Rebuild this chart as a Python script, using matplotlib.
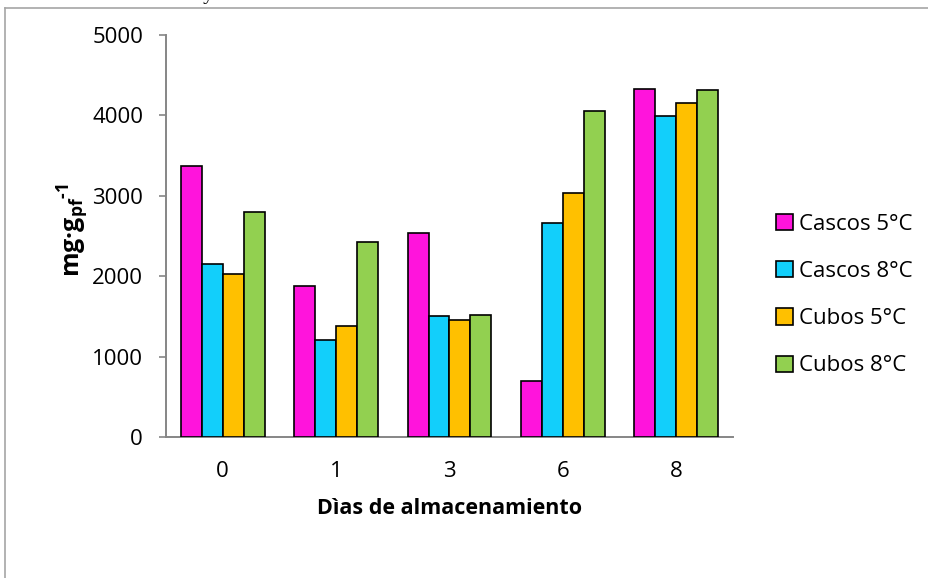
import matplotlib
matplotlib.use('Agg')
import matplotlib.pyplot as plt
import numpy as np
from matplotlib.lines import Line2D

# days of storage and measured content per treatment
dias = ['0', '1', '3', '6', '8']
cascos_5 = [3370, 1880, 2540, 700, 4330]
cascos_8 = [2150, 1205, 1510, 2665, 3995]
cubos_5 = [2025, 1385, 1450, 3030, 4150]
cubos_8 = [2800, 2430, 1520, 4060, 4320]
series_names = ['Cascos 5°C', 'Cascos 8°C', 'Cubos 5°C', 'Cubos 8°C']
colores = ['#FF14DC', '#12CFFB', '#FFC000', '#92D050']
y_ticks = [0, 1000, 2000, 3000, 4000, 5000]

plt.rcParams['font.family'] = ['Open Sans', 'DejaVu Sans']
plt.rcParams['mathtext.fontset'] = 'custom'
plt.rcParams['mathtext.rm'] = 'Open Sans:bold'
plt.rcParams['mathtext.it'] = 'Open Sans:bold'
plt.rcParams['mathtext.bf'] = 'Open Sans:bold'

fig = plt.figure(figsize=(9.29, 5.78), dpi=100)
ax = fig.add_axes([0.1787, 0.2439, 0.6103, 0.6955])

x = np.arange(len(dias))
width = 0.185
series = [cascos_5, cascos_8, cubos_5, cubos_8]
for i, vals in enumerate(series):
    ax.bar(x + (i - 1.5) * width, vals, width, color=colores[i],
           edgecolor='black', linewidth=1.2, label=series_names[i], zorder=3)

ax.set_xlim(-0.5, len(dias) - 0.5)
ax.set_ylim(0, 5000)
ax.set_yticks(y_ticks)
ax.set_xticks(x)
ax.set_xticklabels(dias)

for side in ['top', 'right']:
    ax.spines[side].set_visible(False)
for side in ['left', 'bottom']:
    ax.spines[side].set_color('#868686')
    ax.spines[side].set_linewidth(1.4)

ax.tick_params(axis='y', length=5, width=1.2, color='#868686', pad=11.5, labelsize=16)
ax.tick_params(axis='x', length=0, pad=17, labelsize=16)

ax.set_xlabel('Dìas de almacenamiento', fontsize=15.5, fontweight='bold', labelpad=12)
ax.set_ylabel(r'mg·g$_{pf}{}^{\text{-1}}$', fontsize=18, fontweight='bold', va='center')
ax.yaxis.set_label_coords(-0.164, 0.515)

leg = ax.legend(loc='center left', bbox_to_anchor=(1.0758, 0.353), frameon=False,
                fontsize=16, handlelength=0.75, handleheight=0.75,
                handletextpad=0.3, labelspacing=1.18, borderpad=0, borderaxespad=0)

# frame around the chart and clipped caption line above it
fig.add_artist(Line2D([5 / 929, 5 / 929], [0, 1 - 8 / 578], color='#A6A6A6', lw=1.2))
fig.add_artist(Line2D([5 / 929, 1], [1 - 8 / 578, 1 - 8 / 578], color='#A6A6A6', lw=1.2))
fig.text(0.0, 1 + 1.5 / 578, 'radas durante 8 días a 5 y 8°C', fontsize=15,
         family='Liberation Serif', va='baseline', ha='left')

plt.savefig('out.png', dpi=100)
